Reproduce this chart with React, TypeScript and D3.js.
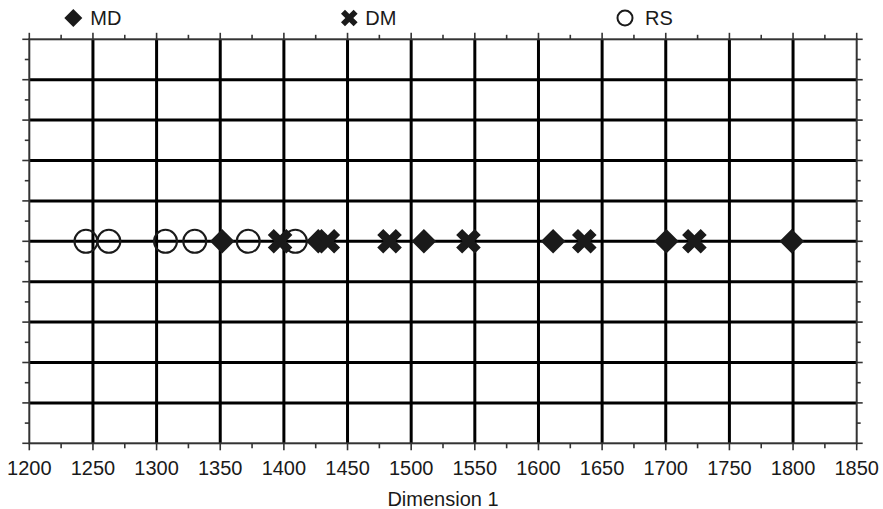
import React from "react";
import * as d3 from "d3";

const seriesNames = ["MD", "DM", "RS"];
const mdValues = [1351.5, 1427, 1510, 1611.5, 1700.5, 1799];
const dmValues = [1397, 1434.5, 1483, 1545, 1636, 1722.5];
const rsValues = [1244.5, 1262.5, 1307, 1330, 1372, 1409];
const xTickValues = [1200, 1250, 1300, 1350, 1400, 1450, 1500, 1550, 1600, 1650, 1700, 1750, 1800, 1850];
const xAxisTitle = "Dimension 1";

const W = 883;
const H = 509;
const L = 29.3, R = 856.7, T = 39.3, B = 443.3;
const FONT = "'Liberation Sans', Arial, Helvetica, sans-serif";
const INK = "#1a1a1a";
const FRAME = "#333";
const FS = 20;

function xPath(s: number, d: number) {
  const p = [
    [-s, -s + d], [-s + d, -s], [0, -d], [s - d, -s], [s, -s + d], [d, 0],
    [s, s - d], [s - d, s], [0, d], [-s + d, s], [-s, s - d], [-d, 0],
  ];
  return "M" + p.map((q) => q.join(",")).join("L") + "Z";
}
function diamondPath(s: number) {
  return `M0,${-s}L${s},0L0,${s}L${-s},0Z`;
}

export default function App() {
  const x = d3.scaleLinear().domain([1200, 1850]).range([L, R]);
  const y = d3.scaleLinear().domain([-1, 1]).range([B, T]);
  const xMajor = xTickValues;
  const xMinor = d3.range(1225, 1850, 50);
  const yMajor = d3.range(-10, 11, 2).map((v) => v / 10);
  const yMinor = d3.range(-9, 10, 2).map((v) => v / 10);
  const y0 = y(0);

  const legendX = [73.3, 349.3, 625];
  const legendY = 18;

  return (
    <svg width={W} height={H} style={{ position: "absolute", left: 0, top: 0, background: "#fff" }}>
      {/* grid */}
      {xMajor.slice(1, -1).map((v) => (
        <line key={"gx" + v} x1={x(v)} x2={x(v)} y1={T} y2={B} stroke="#000" strokeWidth={3} />
      ))}
      {yMajor.slice(1, -1).map((v) => (
        <line key={"gy" + v} x1={L} x2={R} y1={y(v)} y2={y(v)} stroke="#000" strokeWidth={3} />
      ))}
      {/* ticks */}
      <g stroke={FRAME} strokeWidth={1.6}>
        {xMajor.map((v) => (
          <g key={"tx" + v}>
            <line x1={x(v)} x2={x(v)} y1={B} y2={B + 7} />
            <line x1={x(v)} x2={x(v)} y1={T} y2={T - 6.5} />
          </g>
        ))}
        {xMinor.map((v) => (
          <g key={"mx" + v}>
            <line x1={x(v)} x2={x(v)} y1={B} y2={B + 5} />
            <line x1={x(v)} x2={x(v)} y1={T} y2={T - 4.5} />
          </g>
        ))}
        {yMajor.map((v) => (
          <g key={"ty" + v}>
            <line x1={L} x2={L - 7} y1={y(v)} y2={y(v)} />
            <line x1={R} x2={R + 6} y1={y(v)} y2={y(v)} />
          </g>
        ))}
        {yMinor.map((v) => (
          <g key={"my" + v}>
            <line x1={L} x2={L - 4.5} y1={y(v)} y2={y(v)} />
            <line x1={R} x2={R + 4} y1={y(v)} y2={y(v)} />
          </g>
        ))}
      </g>
      {/* frame */}
      <rect x={L} y={T} width={R - L} height={B - T} fill="none" stroke={FRAME} strokeWidth={2} />
      {/* tick labels */}
      {xMajor.map((v) => (
        <text key={"lx" + v} x={x(v)} y={475} textAnchor="middle" fontFamily={FONT} fontSize={FS} fill={INK}>
          {v}
        </text>
      ))}
      <text x={(L + R) / 2} y={506} textAnchor="middle" fontFamily={FONT} fontSize={FS} fill={INK}>
        {xAxisTitle}
      </text>
      {/* data */}
      {rsValues.map((v, i) => (
        <circle key={"rs" + i} cx={x(v)} cy={y0} r={11.5} fill="none" stroke={INK} strokeWidth={2} />
      ))}
      {mdValues.map((v, i) => (
        <path key={"md" + i} d={diamondPath(12.3)} transform={`translate(${x(v)},${y0})`} fill={INK} />
      ))}
      {dmValues.map((v, i) => (
        <path key={"dm" + i} d={xPath(12.3, 6)} transform={`translate(${x(v)},${y0})`} fill={INK} />
      ))}
      {/* legend */}
      <path d={diamondPath(9)} transform={`translate(${legendX[0]},${legendY})`} fill={INK} />
      <text x={legendX[0] + 17} y={25} fontFamily={FONT} fontSize={FS} fill={INK}>{seriesNames[0]}</text>
      <path d={xPath(8.3, 4)} transform={`translate(${legendX[1]},${legendY})`} fill={INK} />
      <text x={legendX[1] + 16} y={25} fontFamily={FONT} fontSize={FS} fill={INK}>{seriesNames[1]}</text>
      <circle cx={legendX[2]} cy={legendY} r={7.5} fill="none" stroke={INK} strokeWidth={2} />
      <text x={legendX[2] + 20} y={25} fontFamily={FONT} fontSize={FS} fill={INK}>{seriesNames[2]}</text>
    </svg>
  );
}
